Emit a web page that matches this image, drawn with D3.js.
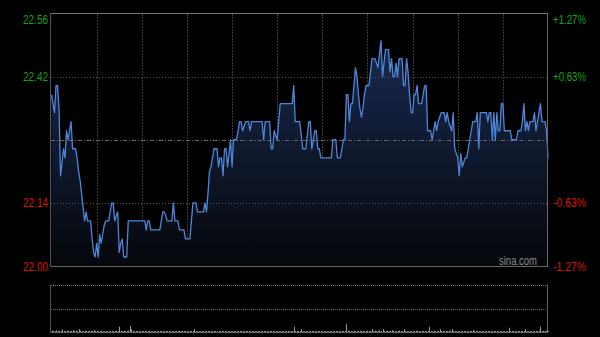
<!DOCTYPE html>
<head>
  <meta charset="utf-8">
  <script src="https://d3js.org/d3.v7.min.js"></script>
  <style>
    body { margin: 0; background: #000; }
    svg { width: 600px; height: 337px; display: block; }
    text { font-family: "Liberation Sans", Arial, sans-serif; }
  </style>
</head>

<body>
  <svg></svg>

  <script>
    const width = 600;
    const height = 337;

    // minute prices, 9:30-12:00 and 13:00-16:00
    const prices = [
      22.38,22.36,22.34,22.40,22.40,22.35,22.20,22.23,22.26,22.24,
      22.30,22.28,22.30,22.32,22.26,22.26,22.26,22.24,22.21,22.19,
      22.16,22.13,22.10,22.12,22.10,22.10,22.10,22.06,22.03,22.02,
      22.05,22.02,22.07,22.05,22.07,22.09,22.10,22.10,22.10,22.12,
      22.14,22.14,22.10,22.11,22.12,22.03,22.05,22.06,22.02,22.02,
      22.02,22.10,22.10,22.10,22.10,22.10,22.10,22.10,22.10,22.10,
      22.10,22.10,22.10,22.08,22.10,22.10,22.08,22.08,22.08,22.08,
      22.08,22.08,22.08,22.10,22.12,22.12,22.11,22.10,22.10,22.10,
      22.10,22.14,22.10,22.10,22.10,22.08,22.08,22.08,22.08,22.06,
      22.06,22.06,22.06,22.10,22.14,22.14,22.14,22.12,22.12,22.12,
      22.12,22.12,22.14,22.12,22.16,22.21,22.22,22.24,22.26,22.26,
      22.26,22.22,22.24,22.24,22.20,22.26,22.26,22.22,22.25,22.28,
      22.22,22.28,22.28,22.28,22.30,22.32,22.32,22.30,22.31,22.32,
      22.32,22.32,22.30,22.32,22.32,22.32,22.32,22.32,22.32,22.32,
      22.32,22.28,22.32,22.32,22.32,22.32,22.26,22.26,22.30,22.29,
      22.28,22.32,22.36,22.36,22.36,22.36,22.36,22.36,22.36,22.36,
      22.36,22.40,22.32,22.32,22.32,22.32,22.29,22.26,22.26,22.26,
      22.29,22.32,22.32,22.26,22.28,22.30,22.30,22.26,22.26,22.24,
      22.24,22.24,22.24,22.24,22.24,22.24,22.24,22.28,22.28,22.28,
      22.24,22.24,22.24,22.26,22.28,22.28,22.38,22.38,22.32,22.36,
      22.36,22.40,22.44,22.42,22.38,22.35,22.33,22.35,22.38,22.40,
      22.40,22.40,22.43,22.46,22.46,22.46,22.45,22.44,22.47,22.50,
      22.42,22.45,22.48,22.48,22.48,22.43,22.46,22.42,22.42,22.45,
      22.42,22.46,22.46,22.46,22.40,22.40,22.46,22.43,22.38,22.34,
      22.34,22.38,22.38,22.40,22.36,22.36,22.36,22.38,22.40,22.40,
      22.30,22.30,22.30,22.28,22.30,22.32,22.30,22.32,22.33,22.34,
      22.34,22.34,22.32,22.34,22.32,22.31,22.30,22.34,22.26,22.25,
      22.24,22.20,22.25,22.22,22.23,22.24,22.24,22.26,22.28,22.30,
      22.32,22.32,22.32,22.34,22.26,22.34,22.34,22.34,22.34,22.34,
      22.32,22.34,22.34,22.28,22.34,22.28,22.34,22.30,22.30,22.36,
      22.36,22.30,22.30,22.30,22.30,22.30,22.28,22.28,22.28,22.28,
      22.30,22.30,22.30,22.32,22.36,22.30,22.32,22.30,22.32,22.32,
      22.32,22.34,22.30,22.32,22.34,22.36,22.32,22.32,22.32,22.30,22.24
    ];

    const volumes = [
      3,2,2,3,2,2,2,5,2,2,  3,2,2,2,4,2,2,2,6,3,  2,2,3,2,2,2,2,2,4,2,
      2,2,2,3,2,2,2,2,2,2,  2,2,2,3,2,11,2,2,3,2, 2,3,13,6,2,2,2,2,2,2,
      2,2,2,2,2,3,2,2,2,2,  2,2,2,2,2,2,2,2,2,2,  2,2,2,2,2,3,2,2,2,2,
      2,2,2,2,2,6,2,2,2,2,  2,2,2,2,2,2,2,2,2,2,  2,2,2,2,2,2,2,2,2,2,
      2,2,2,2,2,2,2,2,2,2,  2,2,2,2,2,2,2,2,2,2,  2,2,2,2,2,2,2,2,2,2,
      2,2,2,2,2,2,2,2,2,2,  2,11,2,2,2,2,6,2,2,2, 2,2,2,2,2,2,2,2,2,2,
      2,2,2,2,2,2,2,2,2,2,  2,2,2,2,2,2,17,3,3,2, 2,3,2,2,2,2,3,2,2,2,
      3,2,2,6,2,3,2,2,3,2,  6,2,2,3,2,2,4,2,2,2,  2,3,2,2,6,2,2,2,2,2,
      2,2,2,3,2,2,2,2,2,2,  2,11,2,2,3,2,2,2,6,2, 2,2,2,2,3,2,6,2,2,2,
      2,2,2,2,2,2,2,2,2,2,  4,2,2,2,2,2,2,2,2,2,  2,2,2,2,2,2,2,2,2,2,
      2,2,2,2,9,2,2,2,2,2,  2,2,2,2,2,6,2,2,2,2,  2,2,2,2,2,11,2,2,2,2,2
    ];

    const priceTicks = [22.56, 22.42, 22.28, 22.14, 22.00];
    const leftLabels = ['22.56', '22.42', '', '22.14', '22.00'];
    const rightLabels = ['+1.27%', '+0.63%', '', '-0.63%', '-1.27%'];
    const timeTicks = [30, 60, 90, 120, 150, 180, 210, 240, 270, 300];

    const svg = d3.select('svg');

    svg.append('rect').attr('width', width).attr('height', height).attr('fill', '#000');

    const x = d3.scaleLinear().domain([0, 330]).range([51.5, 548]);
    const y = d3.scaleLinear().domain([22.00, 22.56]).range([266, 13.5]);
    const yVol = d3.scaleLinear().domain([0, 100]).range([332, 285]);

    const defs = svg.append('defs');
    const grad = defs.append('linearGradient')
      .attr('id', 'fill')
      .attr('gradientUnits', 'userSpaceOnUse')
      .attr('x1', 0).attr('y1', 13.5).attr('x2', 0).attr('y2', 266);
    grad.append('stop').attr('offset', '0%').attr('stop-color', '#1b2e58');
    grad.append('stop').attr('offset', '100%').attr('stop-color', '#05070b');

    // vertical grid
    svg.append('g').selectAll('line')
      .data(timeTicks).enter().append('line')
      .attr('x1', d => Math.round(x(d)) + 0.5)
      .attr('x2', d => Math.round(x(d)) + 0.5)
      .attr('y1', 14).attr('y2', 266)
      .attr('stroke', '#3a3a3a')
      .attr('stroke-dasharray', '2,1');

    // price area + line
    const area = d3.area()
      .x((d, i) => x(i))
      .y0(266)
      .y1(d => y(d));

    const line = d3.line()
      .x((d, i) => x(i))
      .y(d => y(d));

    svg.append('path')
      .datum(prices)
      .attr('d', area)
      .attr('fill', 'url(#fill)');

    // horizontal grid
    svg.append('g').selectAll('line')
      .data(priceTicks.slice(1, 4)).enter().append('line')
      .attr('x1', 51).attr('x2', 548)
      .attr('y1', d => Math.round(y(d)) + 0.5)
      .attr('y2', d => Math.round(y(d)) + 0.5)
      .attr('stroke', (d, i) => i === 1 ? '#6a6a6a' : '#555')
      .attr('stroke-dasharray', (d, i) => i === 1 ? '4,2,1,2' : '1,2');

    svg.append('path')
      .datum(prices)
      .attr('d', line)
      .attr('fill', 'none')
      .attr('stroke', '#4f86d9')
      .attr('stroke-width', 1.3)
      .attr('stroke-linejoin', 'round');

    // frame
    const frame = svg.append('g').attr('fill', 'none');
    frame.append('line').attr('x1', 50.5).attr('x2', 548).attr('y1', 13.5).attr('y2', 13.5).attr('stroke', '#777');
    frame.append('line').attr('x1', 50.5).attr('x2', 548).attr('y1', 266.5).attr('y2', 266.5).attr('stroke', '#666');
    frame.append('line').attr('x1', 50.5).attr('x2', 50.5).attr('y1', 13.5).attr('y2', 266.5).attr('stroke', '#555');
    frame.append('line').attr('x1', 547.5).attr('x2', 547.5).attr('y1', 13.5).attr('y2', 266.5).attr('stroke', '#666');

    // labels
    svg.append('g').selectAll('text')
      .data(priceTicks).enter().append('text')
      .filter((d, i) => leftLabels[i] !== '')
      .attr('x', 48)
      .attr('y', (d, i) => i === 0 ? 24 : i === 4 ? 265 : y(d) + 4.5)
      .attr('text-anchor', 'end')
      .attr('font-size', 12)
      .attr('textLength', 25)
      .attr('lengthAdjust', 'spacingAndGlyphs')
      .attr('fill', d => d > 22.28 ? '#17a317' : '#d8180c')
      .text(d => leftLabels[priceTicks.indexOf(d)]);

    svg.append('g').selectAll('text')
      .data(priceTicks).enter().append('text')
      .filter((d, i) => rightLabels[i] !== '')
      .attr('x', 553)
      .attr('y', (d, i) => i === 0 ? 24 : i === 4 ? 265 : y(d) + 4.5)
      .attr('font-size', 12)
      .attr('textLength', 33)
      .attr('lengthAdjust', 'spacingAndGlyphs')
      .attr('fill', d => d > 22.28 ? '#17a317' : '#d8180c')
      .text(d => rightLabels[priceTicks.indexOf(d)]);

    svg.append('text')
      .attr('x', 537).attr('y', 265)
      .attr('text-anchor', 'end')
      .attr('font-size', 12)
      .attr('textLength', 38)
      .attr('lengthAdjust', 'spacingAndGlyphs')
      .attr('fill', '#8a8a8a')
      .text('sina.com');

    // volume panel
    const vol = svg.append('g');
    vol.append('line').attr('x1', 51).attr('x2', 548).attr('y1', 285.5).attr('y2', 285.5)
      .attr('stroke', '#777').attr('stroke-dasharray', '1,1');
    vol.append('line').attr('x1', 51).attr('x2', 548).attr('y1', 309.5).attr('y2', 309.5)
      .attr('stroke', '#666').attr('stroke-dasharray', '1,1');

    vol.selectAll('rect')
      .data(volumes).enter().append('rect')
      .attr('x', (d, i) => Math.round(x(i)))
      .attr('y', d => yVol(d))
      .attr('width', 1)
      .attr('height', d => 332 - yVol(d))
      .attr('fill', '#9a9a9a');

    vol.append('line').attr('x1', 50.5).attr('x2', 548).attr('y1', 332.5).attr('y2', 332.5).attr('stroke', '#666');
    vol.append('line').attr('x1', 50.5).attr('x2', 50.5).attr('y1', 285).attr('y2', 333).attr('stroke', '#555');
    vol.append('line').attr('x1', 547.5).attr('x2', 547.5).attr('y1', 285).attr('y2', 333).attr('stroke', '#666');
  </script>
</body>
